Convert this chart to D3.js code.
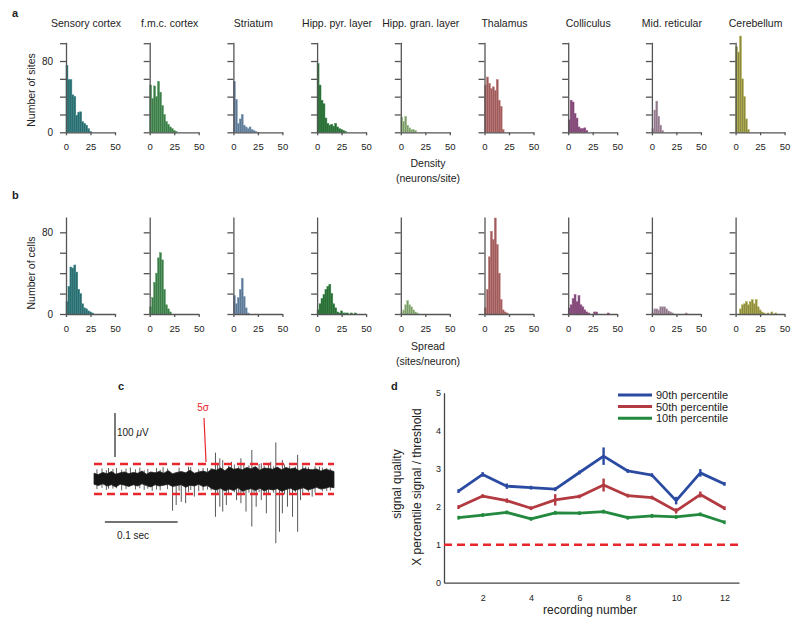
<!DOCTYPE html>
<html><head><meta charset="utf-8">
<script src="https://cdn.jsdelivr.net/npm/d3@7"></script>
<style>body{margin:0;background:#fff} svg{display:block} text{font-family:"Liberation Sans",Arial,sans-serif;fill:#222}</style>
</head><body><svg id="chart" width="800" height="626"></svg>
<script>
// ---------------- DATA ----------------
const regions = ["Sensory cortex","f.m.c. cortex","Striatum","Hipp. pyr. layer","Hipp. gran. layer","Thalamus","Colliculus","Mid. reticular","Cerebellum"];
const regionColors = ["#2c6a6c","#3f7b4a","#5f7892","#2a6936","#7d9a6c","#9a5c5c","#7a4670","#8d7888","#8c8a3e"];
const binWidth = 2;
const densityCounts = [
  [75,59,59,42,40,19,22,23,12,10,8,4,1],
  [53,38,52,40,57,45,30,20,12,9,6,4,2,1],
  [57,37,10,15,20,8,6,4,6,3,2,1],
  [77,53,36,32,16,10,8,9,7,10,6,4,3,2,1],
  [17,12,18,8,5,3,3,2],
  [53,62,55,49,51,47,59,36,29,3],
  [14,36,34,21,16,6,4,4,5,2],
  [4,25,35,18,8,2],
  [96,90,108,60,40,15,3]
];
const spreadCounts = [
  [12,27,46,45,48,41,24,20,10,6,5,3,2,1],
  [7,16,31,40,55,60,53,24,9,5,2],
  [18,10,16,24,35,17,6,1],
  [4,10,15,19,24,27,29,20,10,6,2,1,3,1,1,1,0,1,0,1],
  [1,4,9,13,9,7,4,2,1],
  [6,24,56,81,73,94,68,40,14,4,2,1],
  [6,9,15,19,12,18,9,7,4,2,1,0,0,2,2,0,0,0,0,0,1],
  [1,5,5,4,7,7,7,5,3,2,1,0,0,0,0,0,0,1],
  [0,0,5,9,10,12,9,12,14,10,14,7,4,2,1,0,1,0,2,0,1]
];
const histXTicks = [0,25,50];
const densityTicks = [0,20,40,60,80,100];
const spreadTicks = [0,20,40,60,80];
const labelledTicks = [0,80];

// trace (panel c), microvolts; envelope sampled every traceStep seconds
const traceStep = 0.006;
const envUpper = [13,10,15,12,17,11,14,16,12,15,13,18,11,16,14,17,13,19,12,15,17,14,20,13,16,18,15,23,20,25,19,27,22,24,21,26,23,28,20,25,24,22,27,21,26,23,25,19,24,22,21,23,18,22,20,17];
const envLower = [-12,-15,-11,-16,-13,-18,-12,-14,-17,-13,-16,-11,-15,-18,-13,-16,-14,-12,-17,-15,-13,-19,-14,-16,-12,-17,-15,-22,-25,-21,-27,-23,-26,-20,-28,-24,-22,-26,-21,-27,-23,-25,-22,-28,-24,-21,-26,-23,-20,-25,-22,-19,-23,-21,-18,-20];
const hairTimes = [0.004,0.011,0.017,0.026,0.031,0.038,0.044,0.057,0.063,0.069,0.074,0.086,0.091,0.101,0.117,0.133,0.144,0.156,0.161,0.170,0.185,0.193,0.199,0.206,0.213,0.220,0.227,0.234,0.240,0.247,0.262,0.269,0.277,0.287,0.295,0.304,0.314,0.320,0.325];
const hairUp   = [22,24,20,23,25,21,24,22,26,20,23,25,21,24,26,27,22,25,24,35,30,33,29,36,31,28,34,30,32,29,33,30,28,31,27,29,26,25,24];
const hairDown = [-23,-20,-25,-22,-21,-26,-23,-24,-21,-25,-22,-24,-26,-23,-27,-25,-28,-24,-26,-33,-35,-30,-37,-32,-31,-36,-30,-34,-33,-31,-35,-32,-30,-33,-29,-31,-28,-27,-26];
const spikeTimes = [0.02,0.05,0.08,0.095,0.108,0.113,0.120,0.126,0.13,0.138,0.15,0.167,0.173,0.177,0.182,0.189,0.196,0.202,0.209,0.217,0.223,0.230,0.237,0.243,0.250,0.255,0.259,0.266,0.273,0.280,0.284,0.291,0.300,0.310];
const spikeUp   = [25,26,0,27,0,0,0,0,28,0,25,60,47,43,0,39,0,47,0,66,0,36,0,39,83,0,43,0,0,55,0,28,0,28];
const spikeDown = [-22,0,-27,0,-72,-59,-52,-55,-30,-40,-26,-86,-63,-74,-59,0,-48,-55,-74,-108,-63,-48,-78,0,-146,-120,-78,-63,-86,-120,-48,0,-40,0];
const threshold = 34;

// panel d
const recordings = [1,2,3,4,5,6,7,8,9,10,11,12];
const p90 = [2.41,2.85,2.54,2.50,2.46,2.90,3.33,2.94,2.83,2.16,2.89,2.60];
const p90err = [0.04,0.06,0.07,0.03,0.05,0.04,0.23,0.03,0.05,0.10,0.10,0.04];
const p50 = [1.99,2.28,2.16,1.96,2.18,2.27,2.57,2.29,2.24,1.89,2.32,1.96];
const p50err = [0.03,0.05,0.06,0.03,0.15,0.04,0.17,0.04,0.04,0.07,0.08,0.03];
const p10 = [1.71,1.78,1.85,1.68,1.84,1.83,1.87,1.71,1.76,1.73,1.80,1.59];
const p10err = [0.02,0.02,0.04,0.02,0.04,0.02,0.03,0.02,0.02,0.03,0.02,0.02];
const seriesNames = ["90th percentile","50th percentile","10th percentile"];
const seriesColors = ["#2b4ba2","#b23a40","#22893f"];
const dYTicks = [0,1,2,3,4,5];
const dXTicks = [2,4,6,8,10,12];

// ---------------- DRAW ----------------
const svg = d3.select("#chart");
const axisColor = "#555";

function styleAxis(g){
  g.selectAll("path,line").attr("stroke",axisColor).attr("stroke-width",1.3);
  g.selectAll("text").attr("fill","#222").style("font-family","'Liberation Sans',Arial,sans-serif");
}

function histogram(i, counts, y0px, pxPerUnit, ticks, top){
  const ax = 66 + 83.7*i;
  const x = d3.scaleLinear().domain([0,50]).range([ax, ax+49]);
  const y = d3.scaleLinear().domain([0,top]).range([y0px, y0px - top*pxPerUnit]);
  const g = svg.append("g");
  const col = regionColors[i];
  const edge = d3.color(col).brighter(0.7).formatHex();
  g.selectAll("rect").data(counts.map((c,j)=>({c,j})).filter(d=>d.c>0)).join("rect")
    .attr("x", d=>x(d.j*binWidth))
    .attr("width", x(binWidth)-x(0))
    .attr("y", d=>y(d.c))
    .attr("height", d=>y(0)-y(d.c))
    .attr("fill", col).attr("stroke", edge).attr("stroke-width",0.5);
  const ya = d3.axisLeft(y).tickValues(ticks).tickSize(6).tickSizeOuter(0).tickPadding(7)
    .tickFormat(d => (i===0 && labelledTicks.includes(d)) ? d : "");
  g.append("g").attr("transform",`translate(${ax},0)`).call(ya).call(styleAxis)
    .selectAll("text").style("font-size","10px");
  const xa = d3.axisBottom(x).tickValues(histXTicks).tickSize(3).tickSizeOuter(0).tickPadding(8);
  g.append("g").attr("transform",`translate(0,${y0px})`).call(xa).call(styleAxis)
    .selectAll("text").style("font-size","9.5px");
  return ax;
}

regions.forEach((r,i)=>{
  const ax = histogram(i, densityCounts[i], 132.3, 0.891, densityTicks, 101);
  svg.append("text").attr("x",ax+20).attr("y",27).attr("text-anchor","middle")
    .style("font-size","10.5px").text(r);
  histogram(i, spreadCounts[i], 314, 1.021, spreadTicks, 95);
});

function txt(x,y,s,size,opts={}){
  const t = svg.append("text").attr("x",x).attr("y",y).style("font-size",size+"px").text(s);
  if(opts.anchor) t.attr("text-anchor",opts.anchor);
  if(opts.rot) t.attr("transform",`rotate(-90,${x},${y})`);
  if(opts.bold) t.style("font-weight","bold");
  if(opts.fill) t.style("fill",opts.fill);
  return t;
}
txt(12,17,"a",11,{bold:true});
txt(12,199,"b",11,{bold:true});
txt(35,90,"Number of sites",10.5,{anchor:"middle",rot:true});
txt(35,273,"Number of cells",10.5,{anchor:"middle",rot:true});
txt(428,167,"Density",10.5,{anchor:"middle"});
txt(428,182,"(neurons/site)",10.5,{anchor:"middle"});
txt(428,350,"Spread",10.5,{anchor:"middle"});
txt(428,365,"(sites/neuron)",10.5,{anchor:"middle"});

// ---- panel c ----
txt(118,390,"c",11,{bold:true});
const tS = d3.scaleLinear().domain([0,0.33]).range([94,334]);
const vS = d3.scaleLinear().domain([-150,100]).range([479+66,479-44]);
const env = envUpper.map((u,k)=>({t:Math.min(k*traceStep,0.33),u,l:envLower[k]}));
hairTimes.forEach((t,k)=>{
  svg.append("line").attr("x1",tS(t)).attr("x2",tS(t))
    .attr("y1",vS(hairUp[k])).attr("y2",vS(hairDown[k]))
    .attr("stroke","#3a3a3a").attr("stroke-width",0.8);
});
spikeTimes.forEach((t,k)=>{
  svg.append("line").attr("x1",tS(t)).attr("x2",tS(t))
    .attr("y1",vS(spikeUp[k] || 0)).attr("y2",vS(spikeDown[k] || 0))
    .attr("stroke","#444").attr("stroke-width",0.9);
});
svg.append("path").datum(env)
  .attr("d", d3.area().x(d=>tS(d.t)).y0(d=>vS(d.l)).y1(d=>vS(d.u)))
  .attr("fill","#151515").attr("stroke","#222").attr("stroke-width",0.8);
[threshold,-threshold].forEach(v=>{
  svg.append("line").attr("x1",tS(0)).attr("x2",tS(0.33)).attr("y1",vS(v)).attr("y2",vS(v))
    .attr("stroke","#e8262c").attr("stroke-width",2.5).attr("stroke-dasharray","8,5");
});
// scale bars
svg.append("line").attr("x1",115).attr("x2",115).attr("y1",vS(150)).attr("y2",vS(50))
  .attr("stroke","#333").attr("stroke-width",1.3);
const mv = svg.append("text").attr("x",117).attr("y",436).style("font-size","10px");
mv.append("tspan").text("100 ");
mv.append("tspan").style("font-style","italic").text("μ");
mv.append("tspan").text("V");
svg.append("line").attr("x1",tS(0.015)).attr("x2",tS(0.115)).attr("y1",522).attr("y2",522)
  .attr("stroke","#444").attr("stroke-width",1.5);
txt(133,539,"0.1 sec",10,{anchor:"middle"});
txt(203,411,"5σ",10,{anchor:"middle",fill:"#e8262c"});
svg.append("line").attr("x1",204).attr("y1",418).attr("x2",206).attr("y2",vS(threshold)-2)
  .attr("stroke","#e8262c").attr("stroke-width",1.2);

// ---- panel d ----
txt(391,390,"d",11,{bold:true});
const xd = d3.scaleLinear().domain([0.4,12.6]).range([444,739]);
const yd = d3.scaleLinear().domain([0,5]).range([582.7,392.7]);
const gya = svg.append("g").attr("transform","translate(444,0)")
  .call(d3.axisLeft(yd).tickValues(dYTicks).tickSize(0).tickPadding(3).tickFormat(d3.format("d")));
gya.selectAll("path").attr("stroke","#444").attr("stroke-width",1.3);
gya.selectAll("text").style("font-size","9px").attr("fill","#444");
const gxa = svg.append("g").attr("transform","translate(0,582.7)")
  .call(d3.axisBottom(xd).tickValues(dXTicks).tickSize(0).tickPadding(12).tickSizeOuter(0));
gxa.selectAll("path").attr("stroke","#444").attr("stroke-width",1.3);
gxa.selectAll("text").style("font-size","9px").attr("fill","#444");

svg.append("line").attr("x1",xd(0.4)).attr("x2",xd(12.6)).attr("y1",yd(1)).attr("y2",yd(1))
  .attr("stroke","#e8262c").attr("stroke-width",2.5).attr("stroke-dasharray","8,5");

const series = [[p90,p90err],[p50,p50err],[p10,p10err]];
series.forEach(([vals,errs],s)=>{
  const col = seriesColors[s];
  svg.append("path").datum(vals)
    .attr("d", d3.line().x((d,k)=>xd(recordings[k])).y(d=>yd(d)))
    .attr("fill","none").attr("stroke",col).attr("stroke-width",2.8).attr("stroke-linejoin","round");
  vals.forEach((v,k)=>{
    svg.append("line").attr("x1",xd(recordings[k])).attr("x2",xd(recordings[k]))
      .attr("y1",yd(v+Math.max(errs[k],0.05))).attr("y2",yd(v-Math.max(errs[k],0.05)))
      .attr("stroke",col).attr("stroke-width",2.4);
  });
  const ly = 395 + s*11.6;
  svg.append("line").attr("x1",618).attr("x2",652).attr("y1",ly).attr("y2",ly)
    .attr("stroke",col).attr("stroke-width",3);
  txt(656,ly+4,seriesNames[s],11);
});
txt(590,614,"recording number",12,{anchor:"middle"});
txt(401,484,"signal quality",12,{anchor:"middle",rot:true});
txt(421,487,"X  percentile signal / threshold",12,{anchor:"middle",rot:true});
</script></body></html>
